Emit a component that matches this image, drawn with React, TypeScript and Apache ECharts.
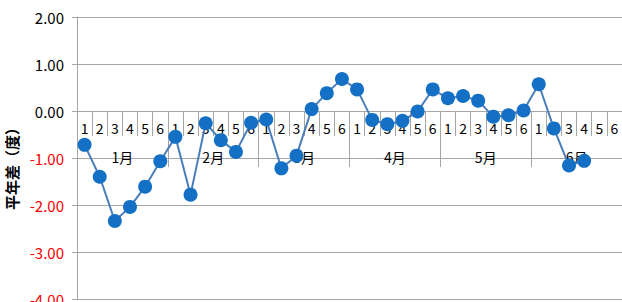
import React, { useEffect, useRef } from "react";
import * as echarts from "echarts";

const weekLabels = [
  "1", "2", "3", "4", "5", "6",
  "1", "2", "3", "4", "5", "6",
  "1", "2", "3", "4", "5", "6",
  "1", "2", "3", "4", "5", "6",
  "1", "2", "3", "4", "5", "6",
  "1", "2", "3", "4", "5", "6",
];
const monthLabels = ["1月", "2月", "3月", "4月", "5月", "6月"];
const anomalies: (number | null)[] = [
  -0.72, -1.4, -2.34, -2.04, -1.61, -1.07,
  -0.55, -1.78, -0.26, -0.62, -0.87, -0.25,
  -0.18, -1.22, -0.95, 0.04, 0.38, 0.68,
  0.46, -0.19, -0.28, -0.21, -0.01, 0.46,
  0.27, 0.32, 0.22, -0.12, -0.09, 0.01,
  0.57, -0.37, -1.16, -1.06, null, null,
];
const yAxisName = "平年差（度）";

const FONT = "'Noto Sans CJK JP', 'Noto Sans', sans-serif";
const GRID_COLOR = "#A6A6A6";

export default function App() {
  const ref = useRef<HTMLDivElement>(null);
  useEffect(() => {
    if (!ref.current) return;
    const chart = echarts.init(ref.current, undefined, { renderer: "svg" });
    chart.setOption({
      animation: false,
      textStyle: { fontFamily: FONT },
      grid: [
        { left: 77, right: 0, top: 17, bottom: 3, containLabel: false, outerBoundsMode: "none" },
        // upper half of the plot: its bottom edge is the zero line, where the category axes sit
        { left: 77, right: 0, top: 17, height: 94, containLabel: false, outerBoundsMode: "none" },
      ],
      xAxis: [
        {
          type: "category",
          gridIndex: 0,
          data: weekLabels,
          show: false,
        },
        {
          type: "category",
          gridIndex: 1,
          data: weekLabels,
          position: "bottom",
          axisLine: { show: true, onZero: false, lineStyle: { color: GRID_COLOR, width: 1 } },
          axisTick: { show: true, interval: 0, length: 25, lineStyle: { color: GRID_COLOR } },
          axisLabel: { interval: 0, margin: 10, fontSize: 14, color: "#000", fontFamily: FONT },
          splitLine: { show: false },
        },
        {
          type: "category",
          gridIndex: 1,
          data: monthLabels,
          position: "bottom",
          axisLine: { show: false, onZero: false },
          axisTick: { show: true, interval: 0, length: 56, lineStyle: { color: GRID_COLOR } },
          axisLabel: { interval: 0, margin: 39, fontSize: 14, color: "#000", fontFamily: FONT },
          splitLine: { show: false },
        },
      ],
      yAxis: [
        {
          type: "value",
          gridIndex: 0,
          min: -4,
          max: 2,
          interval: 1,
          name: yAxisName,
          nameLocation: "middle",
          nameRotate: 90,
          nameGap: 56,
          nameTextStyle: {
            fontSize: 15,
            fontWeight: "bold",
            color: "#000",
            fontFamily: FONT,
            padding: [0, 14, 0, 0],
          },
          axisLine: { show: true, lineStyle: { color: GRID_COLOR } },
          axisTick: { show: true, length: 5, lineStyle: { color: GRID_COLOR } },
          axisLabel: {
            margin: 13,
            fontSize: 15,
            fontFamily: FONT,
            formatter: (v: number) => v.toFixed(2),
            color: (v: any) => (Number(v) < 0 ? "#FF0000" : "#000000"),
          },
          splitLine: { show: true, lineStyle: { color: GRID_COLOR, width: 1 } },
        },
        {
          type: "value",
          gridIndex: 1,
          min: 0,
          max: 1,
          show: false,
          splitLine: { show: false },
        },
      ],
      series: [
        {
          type: "line",
          xAxisIndex: 0,
          yAxisIndex: 0,
          data: anomalies,
          symbol: "circle",
          symbolSize: 14,
          connectNulls: false,
          lineStyle: { color: "#4A7EBB", width: 2 },
          itemStyle: { color: "#1470C4" },
          z: 5,
        },
      ],
    });
    return () => chart.dispose();
  }, []);
  return (
    <div
      ref={ref}
      style={{ position: "fixed", left: 0, top: 0, width: 622, height: 302, background: "#fff" }}
    />
  );
}
